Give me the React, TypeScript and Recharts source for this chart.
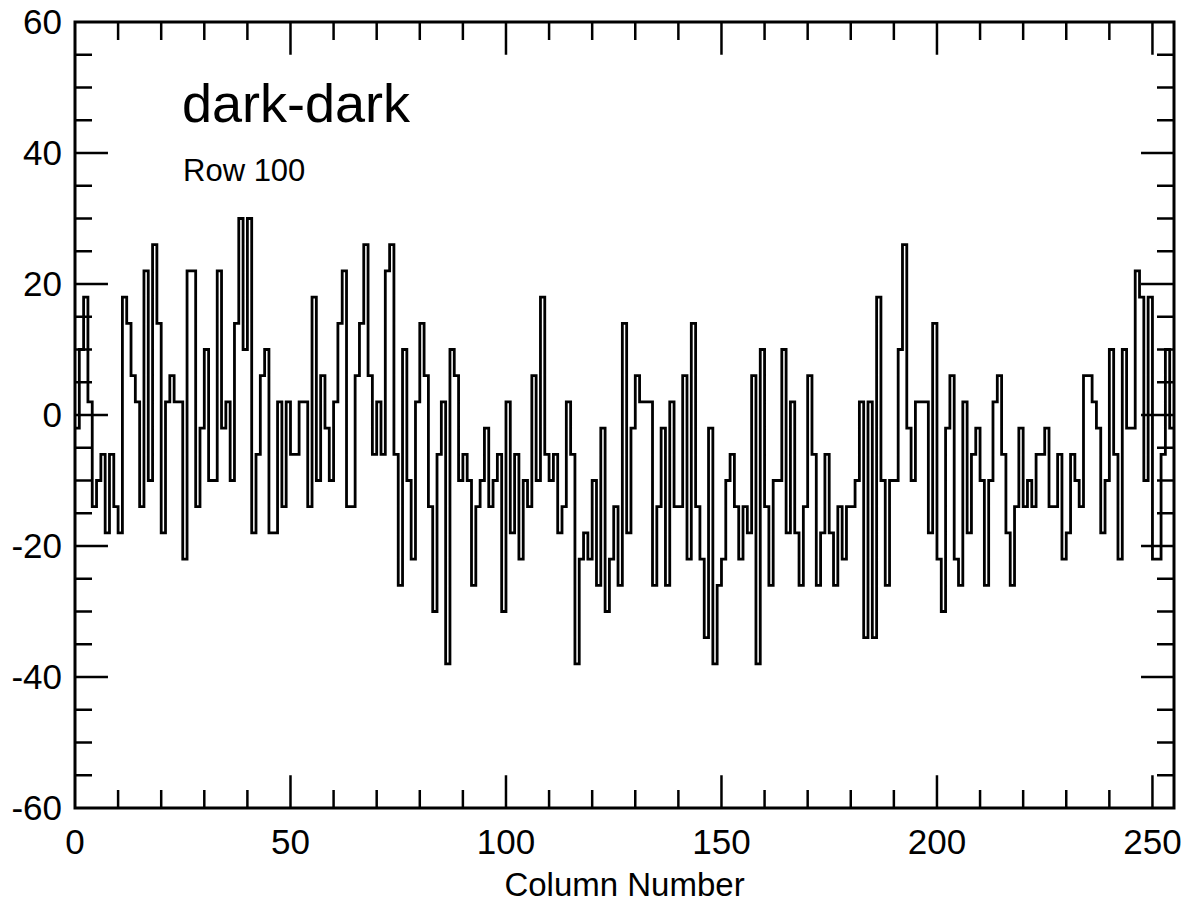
import React from 'react';
import { LineChart, Line, XAxis, YAxis, ReferenceLine, ReferenceArea } from 'recharts';

// column index 0..255 (x categories)
const columns = Array.from({ length: 256 }, (_, i) => i);

// dark-dark signal, row 100, one value per column
const signal = [
  -2, 10, 18, 2, -14, -10, -6, -18, -6, -14,
  -18, 18, 14, 6, 2, -14, 22, -10, 26, 14,
  -18, 2, 6, 2, 2, -22, 22, 22, -14, -2,
  10, -10, -10, 22, -2, 2, -10, 14, 30, 10,
  30, -18, -6, 6, 10, -18, -18, 2, -14, 2,
  -6, -6, 2, 2, -14, 18, -10, 6, -2, -10,
  2, 14, 22, -14, -14, 6, 14, 26, 6, -6,
  2, -6, 22, 26, -6, -26, 10, -10, -22, 2,
  14, 6, -14, -30, -6, 2, -38, 10, 6, -10,
  -6, -10, -26, -14, -10, -2, -14, -10, -6, -30,
  2, -18, -6, -22, -10, -14, 6, -10, 18, -6,
  -10, -6, -18, -14, 2, -6, -38, -22, -18, -22,
  -10, -26, -2, -30, -22, -14, -26, 14, -18, -2,
  6, 2, 2, 2, -26, -14, -2, -26, 2, -14,
  -14, 6, -22, 14, -14, -22, -34, -2, -38, -26,
  -22, -10, -6, -14, -22, -14, -18, 6, -38, 10,
  -14, -26, -10, -10, 10, -18, 2, -18, -26, -14,
  6, -6, -26, -18, -6, -18, -26, -14, -22, -14,
  -14, -10, 2, -34, 2, -34, 18, -10, -26, -10,
  -10, 10, 26, -2, -10, 2, 2, 2, -18, 14,
  -22, -30, -2, 6, -22, -26, 2, -18, -6, -2,
  -10, -26, -10, 2, 6, -6, -18, -26, -14, -2,
  -14, -10, -14, -6, -6, -2, -14, -14, -6, -22,
  -18, -6, -10, -14, 6, 6, 2, -2, -18, -10,
  10, -6, -22, 10, -2, -2, 22, 18, -10, 18,
  -22, -22, -6, 10, -2, -2,
];

const xTickLabels = [0, 50, 100, 150, 200, 250];
const xMinorTicks = [10, 20, 30, 40, 50, 60, 70, 80, 90, 100, 110, 120, 130, 140, 150, 160, 170, 180, 190, 200, 210, 220, 230, 240, 250];
const yTickLabels = [-60, -40, -20, 0, 20, 40, 60];
const yMinorTicks = [-55, -50, -45, -40, -35, -30, -25, -20, -15, -10, -5, 0, 5, 10, 15, 20, 25, 30, 35, 40, 45, 50, 55];

const data = columns.map((col, i) => ({ col, value: signal[i] }));

const FONT = '"Liberation Sans", Arial, Helvetica, sans-serif';
const W = 1188;
const H = 903;
const X_MIN = 0;
const X_MAX = 255;
const Y_MIN = -60;
const Y_MAX = 60;

// tick lengths in data units
const MINOR_V = 2.75;
const MAJOR_V = 5.0;
const MINOR_H = 3.95;
const MAJOR_H = 7.65;

const tickProps = { stroke: '#000', strokeWidth: 2.5, ifOverflow: 'visible' as const };

const App: React.FC = () => {
  const xTicks = xMinorTicks.flatMap((t) => {
    const len = xTickLabels.includes(t) ? MAJOR_V : MINOR_V;
    return [
      <ReferenceLine key={`xb${t}`} segment={[{ x: t, y: Y_MIN }, { x: t, y: Y_MIN + len }]} {...tickProps} />,
      <ReferenceLine key={`xt${t}`} segment={[{ x: t, y: Y_MAX }, { x: t, y: Y_MAX - len }]} {...tickProps} />,
    ];
  });

  const yTicks = yMinorTicks.flatMap((t) => {
    const len = yTickLabels.includes(t) ? MAJOR_H : MINOR_H;
    return [
      <ReferenceLine key={`yl${t}`} segment={[{ x: X_MIN, y: t }, { x: X_MIN + len, y: t }]} {...tickProps} />,
      <ReferenceLine key={`yr${t}`} segment={[{ x: X_MAX, y: t }, { x: X_MAX - len, y: t }]} {...tickProps} />,
    ];
  });

  return (
    <div style={{ position: 'absolute', left: 0, top: 0, width: W, height: H, background: '#fff' }}>
      <LineChart width={W} height={H} data={data} margin={{ top: 22, right: 14, bottom: 0, left: 0 }}>
        <XAxis
          type="number"
          dataKey="col"
          domain={[X_MIN, X_MAX]}
          ticks={xTickLabels}
          interval={0}
          allowDataOverflow
          height={95}
          tickLine={false}
          axisLine={false}
          tickSize={0}
          tickMargin={21}
          tick={{ fontSize: 35, fill: '#000', fontFamily: FONT }}
          label={{ value: 'Column Number', position: 'insideBottom', offset: 7, fontSize: 33, fill: '#000', fontFamily: FONT }}
        />
        <YAxis
          type="number"
          domain={[Y_MIN, Y_MAX]}
          ticks={yTickLabels}
          interval={0}
          allowDataOverflow
          width={75}
          tickLine={false}
          axisLine={false}
          tickSize={0}
          tickMargin={13}
          tick={{ fontSize: 35, fill: '#000', fontFamily: FONT }}
        />
        <ReferenceArea x1={X_MIN} x2={X_MAX} y1={Y_MIN} y2={Y_MAX} fill="none" stroke="#000" strokeWidth={3} ifOverflow="visible" />
        {xTicks}
        {yTicks}
        <Line
          type="stepAfter"
          dataKey="value"
          stroke="#000"
          strokeWidth={2.8}
          dot={false}
          isAnimationActive={false}
        />
      </LineChart>
      <svg width={W} height={H} style={{ position: 'absolute', left: 0, top: 0, pointerEvents: 'none' }}>
        <text x={182} y={122} fontSize={54} fontFamily={FONT} fill="#000">dark-dark</text>
        <text x={183} y={181} fontSize={31} fontFamily={FONT} fill="#000">Row 100</text>
      </svg>
    </div>
  );
};

export default App;
